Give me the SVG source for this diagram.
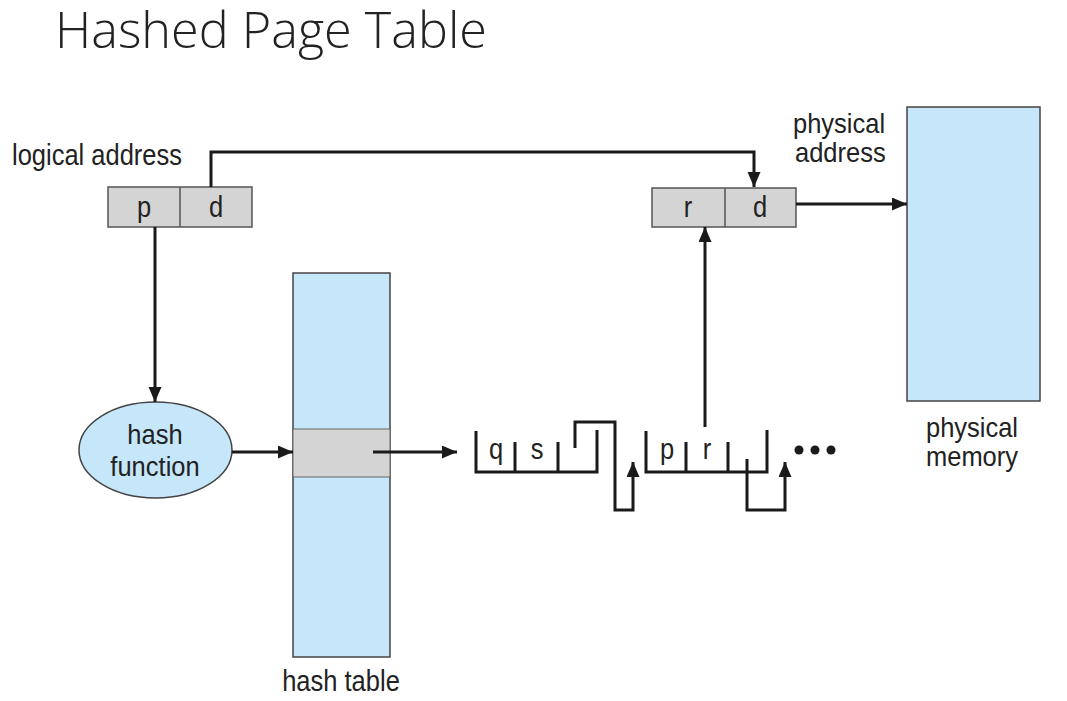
<svg xmlns="http://www.w3.org/2000/svg" width="1067" height="701" viewBox="0 0 1067 701">
<defs>
<style>
.t{font-family:"Liberation Sans",Arial,sans-serif;font-size:25.5px;fill:#222}
.c{text-anchor:middle}
.box{fill:#d4d4d4;stroke:#555;stroke-width:1.5}
.blue{fill:#c5e7f9;stroke:#444;stroke-width:1.5}
.ln{fill:none;stroke:#1a1a1a;stroke-width:3}
.arr{fill:none;stroke:#1a1a1a;stroke-width:3;marker-end:url(#ah)}
</style>
<marker id="ah" markerUnits="userSpaceOnUse" markerWidth="16" markerHeight="14" refX="15" refY="6.5" orient="auto">
<path d="M0,0 L15,6.5 L0,13 z" fill="#1a1a1a"/>
</marker>
</defs>
<rect width="1067" height="701" fill="#fff"/>
<text x="55" y="48" textLength="432" lengthAdjust="spacingAndGlyphs" style="font-family:'Open Sans','Liberation Sans',Arial,sans-serif;font-weight:300;font-size:50px;fill:#222">Hashed Page Table</text>

<g id="logical-address">
<text class="t" transform="translate(12,165) scale(1,1.14)">logical address</text>
<rect class="box" x="108" y="187" width="144" height="40"/>
<line x1="180" y1="187" x2="180" y2="227" stroke="#555" stroke-width="1.5"/>
<text class="t c" transform="translate(144,217) scale(1,1.14)">p</text>
<text class="t c" transform="translate(216,217) scale(1,1.14)">d</text>
</g>

<g id="physical-address">
<text class="t" transform="translate(793,133) scale(1,1.08)">physical</text>
<text class="t" transform="translate(795,162) scale(1,1.08)">address</text>
<rect class="box" x="652" y="188" width="144" height="39"/>
<line x1="725" y1="188" x2="725" y2="227" stroke="#555" stroke-width="1.5"/>
<text class="t c" transform="translate(688,217) scale(1,1.14)">r</text>
<text class="t c" transform="translate(760,217) scale(1,1.14)">d</text>
</g>

<g id="physical-memory">
<rect class="blue" x="907" y="107" width="133" height="294"/>
<text class="t c" transform="translate(972,437) scale(1,1.08)">physical</text>
<text class="t c" transform="translate(972,466) scale(1,1.08)">memory</text>
</g>

<g id="hash-function">
<ellipse class="blue" cx="155.5" cy="450" rx="76.5" ry="48"/>
<text class="t c" transform="translate(155,444) scale(1,1.1)">hash</text>
<text class="t c" transform="translate(155,476) scale(1,1.1)">function</text>
</g>

<g id="hash-table">
<rect class="blue" x="293" y="273" width="97" height="384"/>
<rect class="box" x="293" y="429" width="97" height="48" style="stroke:#666;stroke-width:1"/>
<text class="t c" transform="translate(341,691) scale(1,1.14)">hash table</text>
</g>

<g id="node-qs">
<path class="ln" d="M476,431 V472 H597 V430"/>
<path class="ln" d="M515,442 V472 M558,442 V472"/>
<text class="t c" transform="translate(496,459) scale(1,1.14)">q</text>
<text class="t c" transform="translate(537,459) scale(1,1.14)">s</text>
</g>

<g id="node-pr">
<path class="ln" d="M646,431 V472 H767 V430"/>
<path class="ln" d="M686,442 V472 M728,442 V472"/>
<text class="t c" transform="translate(667,459) scale(1,1.14)">p</text>
<text class="t c" transform="translate(707,459) scale(1,1.14)">r</text>
</g>

<g id="ellipsis">
<circle cx="799" cy="450" r="4.5" fill="#1a1a1a"/>
<circle cx="815" cy="450" r="4.5" fill="#1a1a1a"/>
<circle cx="831" cy="450" r="4.5" fill="#1a1a1a"/>
</g>

<g id="connectors">
<path class="arr" d="M211,187 V152 H754 V187"/>
<path class="arr" d="M796,204 H907"/>
<path class="arr" d="M155,227 V402"/>
<path class="arr" d="M232,452 H293"/>
<path class="arr" d="M373,452 H457"/>
<path class="arr" d="M705,427 V227"/>
<path class="arr" d="M575,448 V422 H615 V510 H633 V462"/>
<path class="arr" d="M747,459 V510 H785 V462"/>
</g>
</svg>
